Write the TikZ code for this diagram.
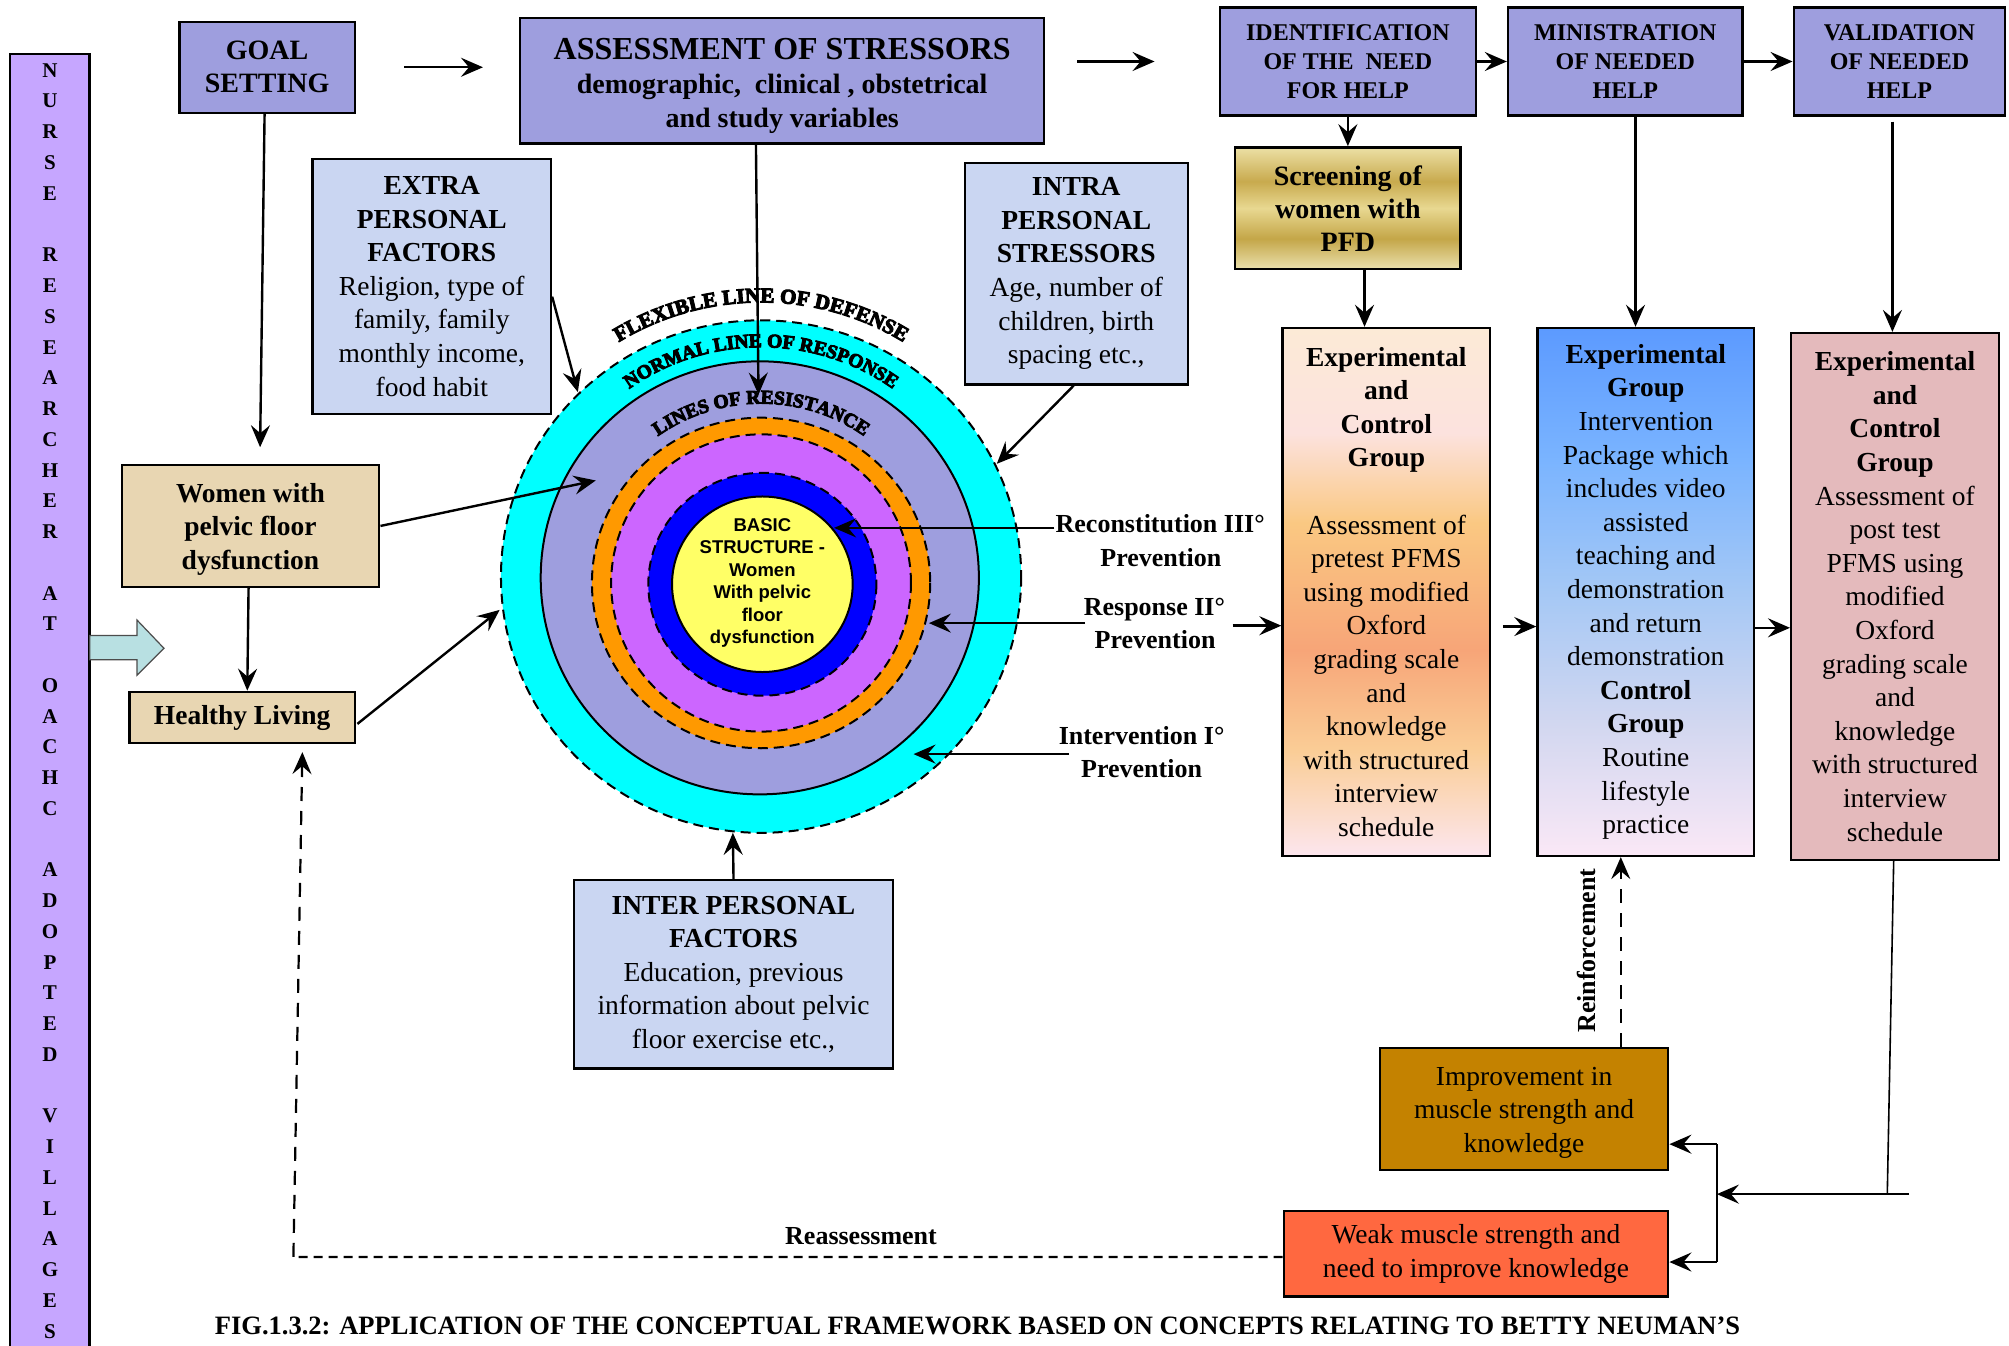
\documentclass[tikz,border=0pt]{standalone}
\usepackage{fontspec}
\setmainfont{Liberation Serif}
\newfontfamily\sansbold{Liberation Sans}
\newfontfamily\ringfont[FakeBold=5]{Liberation Serif}
\usetikzlibrary{arrows.meta,calc,decorations.text}

% colours
\definecolor{peri}{RGB}{158,158,222}
\definecolor{barlav}{RGB}{198,166,255}
\definecolor{arrowblue}{RGB}{184,224,226}
\definecolor{mottle}{RGB}{202,214,242}
\definecolor{parch}{RGB}{232,214,178}
\definecolor{rosebox}{RGB}{228,186,188}
\definecolor{ochre}{RGB}{196,130,0}
\definecolor{tomato}{RGB}{255,104,64}
\definecolor{ringcyan}{RGB}{0,255,255}
\definecolor{ringblue}{RGB}{0,0,255}
\definecolor{ringorange}{RGB}{255,153,0}
\definecolor{ringpurple}{RGB}{204,102,255}
\definecolor{ringyellow}{RGB}{255,255,102}
% gradient stops
\definecolor{og0}{RGB}{252,230,238}
\definecolor{og1}{RGB}{250,205,150}
\definecolor{og2}{RGB}{247,165,120}
\definecolor{og3}{RGB}{250,200,130}
\definecolor{og4}{RGB}{252,226,222}
\definecolor{og5}{RGB}{252,234,214}
\definecolor{bl0}{RGB}{92,154,255}
\definecolor{bl1}{RGB}{122,180,255}
\definecolor{bl2}{RGB}{165,200,245}
\definecolor{bl3}{RGB}{210,215,240}
\definecolor{bl4}{RGB}{250,232,246}
\definecolor{gd0}{RGB}{236,224,165}
\definecolor{gd1}{RGB}{200,170,78}
\definecolor{gd2}{RGB}{232,216,145}
\definecolor{gd3}{RGB}{196,166,72}
\definecolor{gd4}{RGB}{234,224,172}

\pgfdeclareverticalshading{pretestgrad}{100bp}{color(0bp)=(og0); color(25bp)=(og0); color(35bp)=(og1); color(44.5bp)=(og2); color(56.5bp)=(og3); color(65bp)=(og4); color(75bp)=(og5); color(100bp)=(og5)}
\pgfdeclareverticalshading{interventiongrad}{100bp}{color(0bp)=(bl4); color(25bp)=(bl4); color(37.5bp)=(bl3); color(50bp)=(bl2); color(62.5bp)=(bl1); color(75bp)=(bl0); color(100bp)=(bl0)}
\pgfdeclareverticalshading{screengrad}{100bp}{color(0bp)=(gd4); color(25bp)=(gd4); color(37.5bp)=(gd3); color(50bp)=(gd2); color(61bp)=(gd1); color(75bp)=(gd0); color(100bp)=(gd0)}

\tikzset{
  corners/.style args={#1/#2/#3/#4}{at={({(#1+#3)/2},{(#2+#4)/2})},
    minimum width={(#3-#1)*1.2813pt}, minimum height={(#4-#2)*1.2813pt}},
  bx/.style={draw=black, line width=2.4pt, align=center, inner sep=0pt},
  perbox/.style={bx, fill=peri, font=\fontsize{24}{29}\selectfont\bfseries},
  body/.style={font=\fontsize{27.5}{33.6}\selectfont},
  lbl/.style={inner sep=0pt, font=\fontsize{26}{31}\selectfont\bfseries},
  barletter/.style={inner sep=0pt, font=\fontsize{21}{24}\selectfont\bfseries},
  ringline/.style={draw=black, line width=2pt},
  ringdash/.style={ringline, dash pattern=on 10pt off 6pt},
  longdash/.style={line width=2.2pt, dash pattern=on 14pt off 10pt},
  shortdash/.style={line width=2.2pt, dash pattern=on 9pt off 6pt}
}

\begin{document}
\begin{tikzpicture}[x=1.2813pt, y=-1.2813pt, line width=2.4pt,
  >={Stealth[length=22pt,width=19pt,inset=8pt]}]
\useasboundingbox (0,0) rectangle (1568,1050);
\fill[white] (0,0) rectangle (1568,1050);

% Researcher bar
\node[bx, fill=barlav, corners=8/42/70/1058] (bar) {};
\foreach \l [count=\i from 0] in {N,U,R,S,E,{},R,E,S,E,A,R,C,H,E,R,{},A,T,{},O,A,C,H,C,{},A,D,O,P,T,E,D,{},V,I,L,L,A,G,E,S}
  \node[barletter] (bl\i) at (39,55+24*\i) {\l};
\filldraw[fill=arrowblue, draw=black!70, line width=1.2pt] (70,496) -- (107,496) -- (107,484) -- (128,506) -- (107,527) -- (107,515) -- (70,515) -- cycle;

% Client system rings
\filldraw[fill=ringcyan, ringdash] (594,450) ellipse [x radius=203, y radius=200];
\filldraw[fill=peri, ringline] (593,451) ellipse [x radius=171, y radius=169];
\filldraw[fill=ringorange, ringdash] (594,455) ellipse [x radius=132, y radius=129];
\filldraw[fill=ringpurple, ringdash] (594,455) ellipse [x radius=117, y radius=116];
\filldraw[fill=ringblue, ringdash] (595,456) ellipse [x radius=89, y radius=87];
\filldraw[fill=ringyellow, ringline] (595,456) ellipse [x radius=70.5, y radius=68.5];
\node[align=center, inner sep=0pt, font=\sansbold\bfseries\fontsize{18.5}{22.5}\selectfont] (basic) at (595,455)
  {BASIC\\STRUCTURE -\\Women\\With pelvic\\floor\\dysfunction};

% Ring labels
\path[decorate, decoration={text along path, text align=center,
  text={|\ringfont\bfseries\fontsize{21}{25}\selectfont|FLEXIBLE LINE OF DEFENSE}}]
  (594,450) ++(226:214) arc[start angle=226, end angle=314, radius=214];
\path[decorate, decoration={text along path, text align=center,
  text={|\ringfont\bfseries\fontsize{19.5}{23}\selectfont|NORMAL LINE OF RESPONSE}}]
  (594,450) ++(224:179) arc[start angle=224, end angle=316, radius=179];
\path[decorate, decoration={text along path, text align=center,
  text={|\ringfont\bfseries\fontsize{19.5}{23}\selectfont|LINES OF RESISTANCE}}]
  (594,455) ++(222:140) arc[start angle=222, end angle=318, radius=140];

% Arrow tips on the rings
\coordinate (extratip) at (451,306);
\coordinate (intratip) at (778,362);
\coordinate (assesstip) at (592,308);
\coordinate (womentip) at (465,375);
\coordinate (healthytip) at (390,476);
\coordinate (intertip) at (572,650);
\coordinate (recontip) at (651,412);
\coordinate (resptip) at (725,487);
\coordinate (intervtip) at (713,589);

% Process boxes along the top
\node[perbox, font=\fontsize{28}{33}\selectfont\bfseries, corners=140/17/277/88] (goal) {GOAL\\SETTING};
\node[perbox, font=\fontsize{28}{34}\selectfont\bfseries, corners=406/14/815/112] (assess)
  {{\fontsize{32}{36}\selectfont\rule{0pt}{32pt}ASSESSMENT OF STRESSORS}\\demographic,~ clinical , obstetrical\\and study variables};
\node[perbox, corners=952/6/1152/90] (ident) {IDENTIFICATION\\OF THE~ NEED\\FOR HELP};
\node[perbox, corners=1177/6/1360/90] (minis) {MINISTRATION\\OF NEEDED\\HELP};
\node[perbox, corners=1400/6/1565/90] (valid) {VALIDATION\\OF NEEDED\\HELP};
\node[bx, shading=screengrad, font=\fontsize{28}{33}\selectfont\bfseries, corners=964/115/1140/210] (screen)
  {Screening of\\women with\\PFD};

% Stressor boxes
\node[bx, body, fill=mottle, corners=244/124/430/323] (extra)
  {\textbf{EXTRA}\\\textbf{PERSONAL}\\\textbf{FACTORS}\\Religion, type of\\family, family\\monthly income,\\food habit};
\node[bx, body, fill=mottle, corners=753/127/927/300] (intra)
  {\textbf{INTRA}\\\textbf{PERSONAL}\\\textbf{STRESSORS}\\Age, number of\\children, birth\\spacing etc.,};
\node[bx, body, fill=mottle, corners=448/687/697/834] (inter)
  {\textbf{INTER PERSONAL}\\\textbf{FACTORS}\\Education, previous\\information about pelvic\\floor exercise etc.,};

% Client boxes
\node[bx, fill=parch, font=\fontsize{27.5}{33.6}\selectfont\bfseries, corners=95/363/296/458] (women)
  {\rule{0pt}{26pt}Women with\\pelvic floor\\dysfunction};
\node[bx, fill=parch, font=\fontsize{27.5}{33.6}\selectfont\bfseries, corners=101/540/277/580] (healthy)
  {Healthy Living};

% Study group boxes
\node[bx, body, shading=pretestgrad, corners=1001/256/1163/668] (expA)
  {\textbf{Experimental}\\\textbf{and}\\\textbf{Control}\\\textbf{Group}\\[33.6pt]Assessment of\\pretest PFMS\\using modified\\Oxford\\grading scale\\and\\knowledge\\with structured\\interview\\schedule};
\node[bx, body, shading=interventiongrad, corners=1200/256/1369/668] (expB)
  {\textbf{Experimental}\\\textbf{Group}\\Intervention\\Package which\\includes video\\assisted\\teaching and\\demonstration\\and return\\demonstration\\\textbf{Control}\\\textbf{Group}\\Routine\\lifestyle\\practice};
\node[bx, body, fill=rosebox, corners=1398/260/1560/671] (expC)
  {\textbf{Experimental}\\\textbf{and}\\\textbf{Control}\\\textbf{Group}\\Assessment of\\post test\\PFMS using\\modified\\Oxford\\grading scale\\and\\knowledge\\with structured\\interview\\schedule};

% Outcome boxes
\node[bx, body, fill=ochre, corners=1077/818/1302/913] (improve)
  {\rule{0pt}{26pt}Improvement in\\muscle strength and\\knowledge};
\node[bx, body, fill=tomato, corners=1002/945/1302/1012] (weak)
  {Weak muscle strength and\\need to improve knowledge};

% Prevention labels
\node[lbl] (recon) at (905.5,409) {Reconstitution III°};
\node[lbl] (reconp) at (906,435) {Prevention};
\node[lbl] (resp) at (901,475.5) {Response II°};
\node[lbl] (respp) at (901.5,499) {Prevention};
\node[lbl] (interv) at (891,574.5) {Intervention I°};
\node[lbl] (intervp) at (891,600) {Prevention};
\node[lbl] (reass) at (672,965) {Reassessment};
\node[lbl, rotate=90] (reinf) at (1238,742) {Reinforcement};

% Top row arrows
\draw[->, shorten <=48pt, shorten >=36pt] (goal.east) -- (goal.east -| assess.west);
\draw[->, shorten <=32pt, shorten >=64pt] (assess.east |- ident.west) -- (ident.west);
\draw[->] (ident.east) -- (minis.west);
\draw[->] (minis.east) -- (valid.west);
\draw[->] (ident) -- (screen);
\draw[->] ($(screen.south)+(13,0)$) coordinate (sa) -- (sa |- expA.north);
\draw[->] ($(minis.south)+(8,0)$) coordinate (mb) -- (mb |- expB.north);
\draw[->] ($(valid.south)+(-5.5,4)$) coordinate (vc) -- (vc |- expC.north);
\draw[->] ($(expA.east)+(9,27)$) coordinate (ab) -- (ab -| expB.west);
\draw[->] ($(expB.east)+(0,28)$) coordinate (bc) -- (bc -| expC.west);

% Left side arrows
\draw[->] ($(goal.south)+(-2,0)$) -- ($(women.north)+(7.5,-13)$);
\draw[->] ($(women.south)+(-1.5,0)$) -- ($(healthy.north)+(4,0)$);
\draw[->] (women.east) -- (womentip);
\draw[->] ($(healthy.east)+(1,5)$) -- (healthytip);

% Stressors into the rings
\draw[->] ($(extra.east)+(0,8)$) -- (extratip);
\draw[->] ($(intra.south)+(-2,0)$) -- (intratip);
\draw[->] ($(assess.south)+(-20.5,0)$) -- (assesstip);
\draw[->] (inter.north) -- (intertip);

% Prevention levels
\draw[->] ($(recon.west)+(0,3)$) coordinate (rc) -- (rc -| recontip);
\draw[->] ($(resp.south west)+(2,1)$) coordinate (rs) -- (rs -| resptip);
\draw[->] ($(interv.south west)+(9,6)$) coordinate (iv) -- (iv -| intervtip);
\draw[->] ($(resp.south east)+(5,3)$) coordinate (ra) -- (ra -| expA.west);

% Feedback
\coordinate (fbturn) at (1473,932);
\coordinate (fbend) at (1490,932);
\coordinate (fbmid) at (1340,932);
\coordinate (fbup) at (1340,893);
\coordinate (fbdown) at (1340,985);
\draw[line width=1.6pt] ($(expC.south)+(-1,0)$) -- (fbturn);
\draw[->] (fbend) -- (fbmid);
\draw (fbup) -- (fbdown);
\draw[->] (fbup) -- (fbup -| improve.east);
\draw[->] (fbdown) -- (fbdown -| weak.east);
\draw[->, longdash] ($(improve.north)+(75.5,0)$) coordinate (ri) -- (ri |- expB.south);

% Reassessment loop
\coordinate (reascorner) at (229,981);
\coordinate (reastip) at (236,587);
\draw[shortdash] ($(weak.west)+(0,2.5)$) -- (reascorner);
\draw[->, longdash] (reascorner) -- (reastip);

% Caption
\node[inner sep=0pt, font=\fontsize{26.5}{30}\selectfont\bfseries] (caption) at (763,1035)
  {FIG.1.3.2: APPLICATION OF THE CONCEPTUAL FRAMEWORK BASED ON CONCEPTS RELATING TO BETTY NEUMAN'S};
\end{tikzpicture}
\end{document}
